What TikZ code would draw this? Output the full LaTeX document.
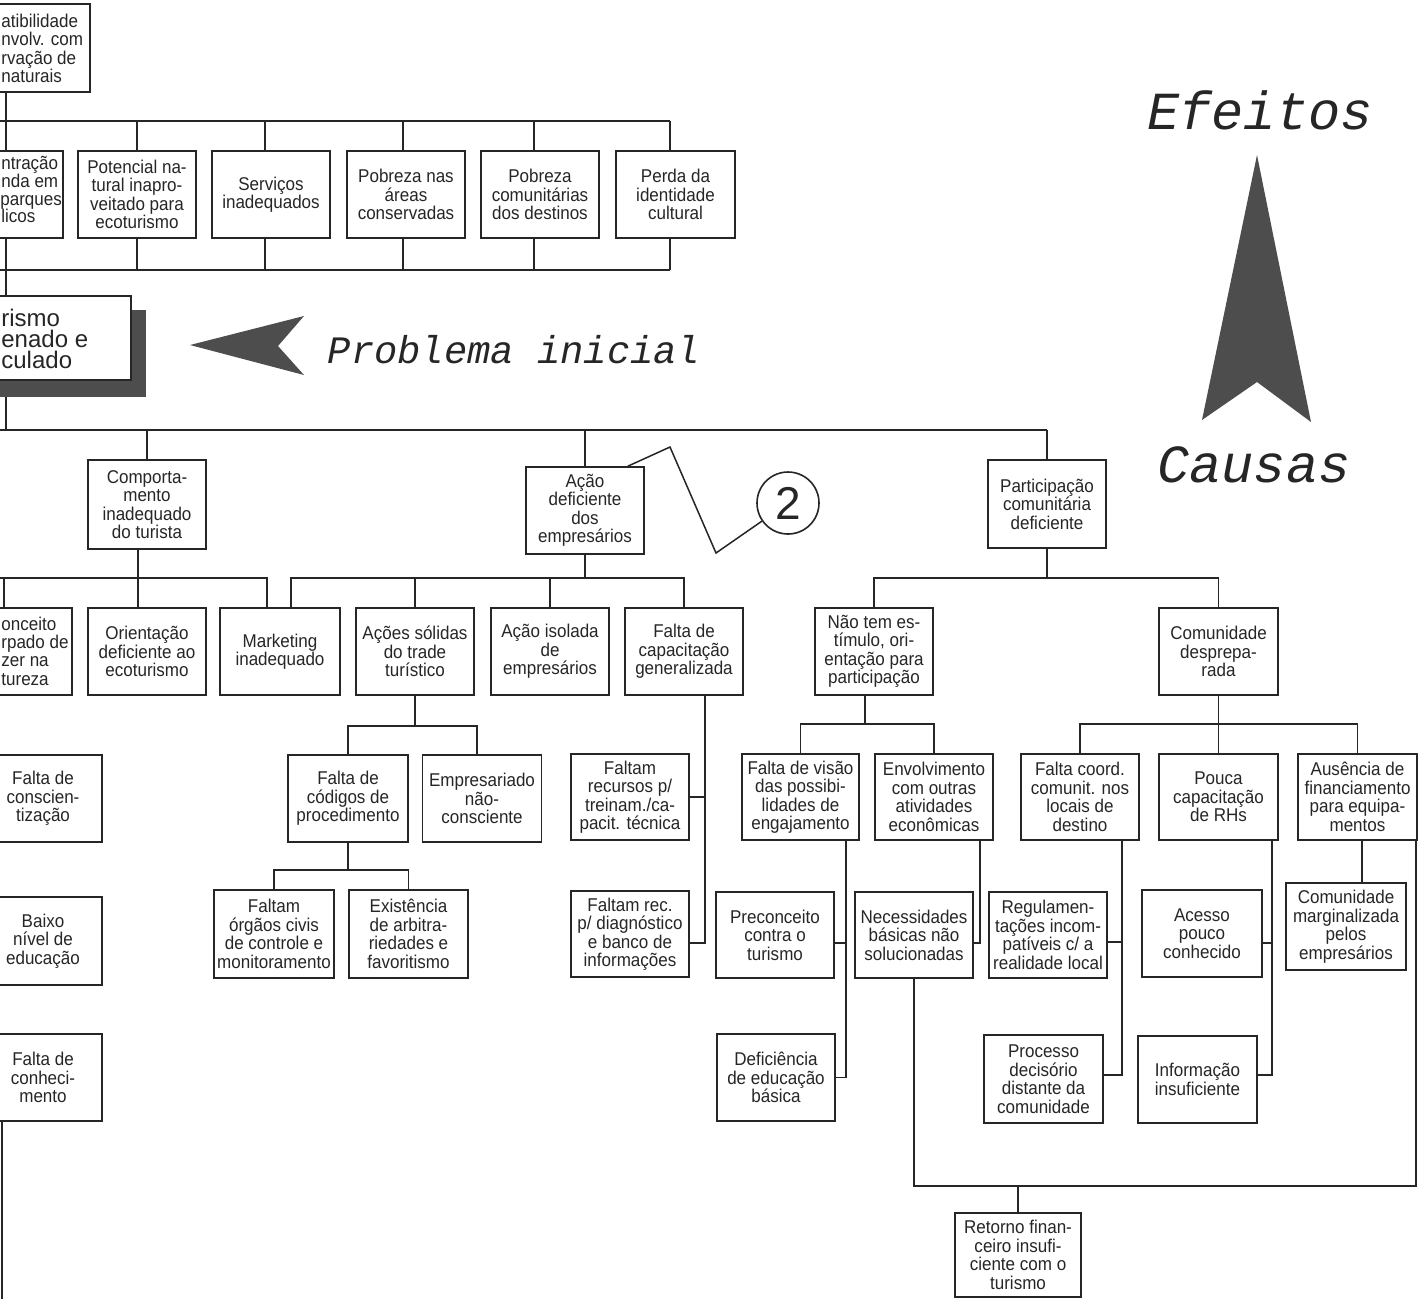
\documentclass[tikz,border=0pt]{standalone}
\usepackage{fontspec}
\setmainfont{Liberation Sans}[FakeStretch=0.92]
\newfontfamily\plainsans{Liberation Sans}
\newfontfamily\courfont{Liberation Mono}
\newcommand\boxfont{\fontsize{9.25}{9.25}\selectfont}
\newcommand\pbfont{\plainsans\fontsize{12}{10.5}\selectfont}
\newcommand\bigmono{\courfont\itshape\fontsize{26.8}{26.8}\selectfont}
\newcommand\midmono{\courfont\itshape\fontsize{19.4}{19.4}\selectfont}
\definecolor{ink}{HTML}{262626}
\definecolor{darkfill}{HTML}{4D4D4D}
\tikzset{
  box/.style={draw=ink, line width=0.8pt, fill=white, inner sep=0pt, align=center, font=\boxfont, text=ink},
  wh/.style 2 args={minimum width=#1*0.5pt, minimum height=#2*0.5pt},
  ln/.style={draw=ink, line width=0.75pt},
  frag/.style={inner sep=0pt, anchor=base west, font=\boxfont, text=ink},
  pfrag/.style={inner sep=0pt, anchor=west, align=left, font=\pbfont, text=ink},
}
\begin{document}
\begin{tikzpicture}[x=0.5pt,y=-0.5pt]
\useasboundingbox (0,0) rectangle (1425,1298);
\clip (0,0) rectangle (1425,1298);
\fill[white] (0,0) rectangle (1425,1298);

\coordinate (bus1) at (-10,121);
\coordinate (bus2) at (-10,270);
\coordinate (bus3) at (-10,430);
\coordinate (bus4) at (-10,578);
\coordinate (bus5) at (-10,726);
\coordinate (bus6) at (-10,870);
\coordinate (bus7) at (-10,724);
\coordinate (bus8) at (-10,1186);
\coordinate (shb) at (0,397);
\coordinate (lcend) at (2,1310);

% ---------- effects ----------
\node[box, wh={168}{88}] (b0) at (6,48) {};
\node[frag] (f0a) at (1,27) {atibilidade};
\node[frag] (f0b) at (1,45.7) {nvolv. com};
\node[frag] (f0c) at (1,64.3) {rvação de};
\node[frag] (f0d) at (1,82.7) {naturais};

\node[box, wh={114}{87}] (r2a) at (6,194.5) {};
\node[frag] (f1a) at (1,169.3) {ntração};
\node[frag] (f1b) at (1,187.3) {nda em};
\node[frag] (f1c) at (0,205) {parques};
\node[frag] (f1d) at (1,222.7) {licos};
\node[box, wh={118}{87}] (r2b) at (137,194.5) {Potencial na-\\tural inapro-\\veitado para\\ecoturismo};
\node[box, wh={118}{87}] (r2c) at (271,194.5) {Serviços\\inadequados};
\node[box, wh={118}{87}] (r2d) at (406,194.5) {Pobreza nas\\áreas\\conservadas};
\node[box, wh={118}{87}] (r2e) at (540,194.5) {Pobreza\\comunitárias\\dos destinos};
\node[box, wh={119}{87}] (r2f) at (675.5,194.5) {Perda da\\identidade\\cultural};

\coordinate (t3) at ([xshift=-3pt]r2c.north);
\coordinate (t4) at ([xshift=-1.5pt]r2d.north);
\coordinate (t5) at ([xshift=-3pt]r2e.north);
\coordinate (t6) at ([xshift=-2.75pt]r2f.north);
\coordinate (u3) at ([xshift=-3pt]r2c.south);
\coordinate (u4) at ([xshift=-1.5pt]r2d.south);
\coordinate (u5) at ([xshift=-3pt]r2e.south);
\coordinate (u6) at ([xshift=-2.75pt]r2f.south);

\draw[ln] (b0.south) -- (r2a.north);
\draw[ln] (bus1) -- (bus1 -| t6);
\draw[ln] (r2b.north) -- (r2b.north |- bus1);
\foreach \p in {t3,t4,t5,t6} \draw[ln] (\p) -- (\p |- bus1);
\draw[ln] (bus2) -- (bus2 -| u6);
\draw[ln] (r2b.south) -- (r2b.south |- bus2);
\foreach \p in {u3,u4,u5,u6} \draw[ln] (\p) -- (\p |- bus2);

% ---------- initial problem ----------
\fill[darkfill] (-150,310) rectangle (146,397);
\node[box, wh={250}{84}] (pb) at (6,338) {};
\node[pfrag] (pft) at (1,339) {rismo\\enado e\\culado};
\draw[ln] (r2a.south) -- (pb.north);
\draw[ln] (pb.south |- shb) -- (pb.south |- bus3);

\fill[darkfill] (190,345) -- (304,316) -- (278,346) -- (304,375) -- cycle;
\node[font=\midmono, text=ink, inner sep=0pt] (pi) at (514,350) {Problema inicial};

\fill[darkfill] (1257,155) -- (1311,422) -- (1257,382) -- (1202,420) -- cycle;
\node[font=\bigmono, text=ink, inner sep=0pt] (ef) at (1260,110) {Efeitos};
\node[font=\bigmono, text=ink, inner sep=0pt] (ca) at (1254,465) {Causas};

% ---------- level 3 ----------
\node[box, wh={118}{89}] (comp) at (147,504.5) {Comporta-\\mento\\inadequado\\do turista};
\node[box, wh={118}{87}] (acao) at (585,510.5) {Ação\\deficiente\\dos\\empresários};
\node[box, wh={118}{88}] (part) at (1047,504) {Participação\\comunitária\\deficiente};

\draw[ln] (bus3) -- (bus3 -| part.north);
\draw[ln] (comp.north) -- (comp.north |- bus3);
\draw[ln] (acao.north) -- (acao.north |- bus3);
\draw[ln] (part.north) -- (part.north |- bus3);

\node[draw=ink, line width=0.8pt, circle, minimum size=31pt, inner sep=0pt, text=ink, font=\plainsans\fontsize{23}{23}\selectfont] (c2) at (788,503) {2};
\coordinate (zz1) at (670,447);
\coordinate (zz2) at (716,553);
\draw[ln] ([xshift=-8.5pt]acao.north east) -- (zz1) -- (zz2) -- (c2);

% ---------- level 4 ----------
\node[box, wh={136}{87}] (conc) at (4,651.5) {};
\node[frag] (f2a) at (1,630) {onceito};
\node[frag] (f2b) at (1,648) {rpado de};
\node[frag] (f2c) at (1,666.7) {zer na};
\node[frag] (f2d) at (1,685) {tureza};
\node[box, wh={118}{87}] (orie) at (147,651.5) {Orientação\\deficiente ao\\ecoturismo};
\node[box, wh={120}{87}] (mkt) at (280,651.5) {Marketing\\inadequado};
\node[box, wh={118}{87}] (acs) at (415,651.5) {Ações sólidas\\do trade\\turístico};
\node[box, wh={118}{87}] (aci) at (550,651.5) {Ação isolada\\de\\empresários};
\node[box, wh={118}{87}] (fcap) at (684,651.5) {Falta de\\capacitação\\generalizada};
\node[box, wh={118}{87}] (nte) at (874,651.5) {Não tem es-\\tímulo, ori-\\entação para\\participação};
\node[box, wh={119}{87}] (cdp) at (1218.5,651.5) {Comunidade\\desprepa-\\rada};

\coordinate (cb) at ([xshift=-4.5pt]comp.south);
\coordinate (mkL) at ([xshift=-6.5pt]mkt.north);
\coordinate (mkR) at ([xshift=5.5pt]mkt.north);
\draw[ln] (cb) -- (cb |- orie.north);
\draw[ln] (bus4) -- (bus4 -| mkL) -- (mkL);
\draw[ln] (conc.north) -- (conc.north |- bus4);
\draw[ln] (mkR) |- (bus4 -| fcap.north) -- (fcap.north);
\draw[ln] (acao.south) -- (acao.south |- bus4);
\draw[ln] (acs.north) -- (acs.north |- bus4);
\draw[ln] (aci.north) -- (aci.north |- bus4);
\draw[ln] (nte.north) |- (bus4 -| cdp.north) -- (cdp.north);
\draw[ln] (part.south) -- (part.south |- bus4);

% ---------- left column ----------
\node[box, wh={118}{87}] (lc1) at (43,798.5) {Falta de\\conscien-\\tização};
\node[box, wh={118}{88}] (lc2) at (43,941) {Baixo\\nível de\\educação};
\node[box, wh={118}{87}] (lc3) at (43,1077.5) {Falta de\\conheci-\\mento};
\draw[ln] (lc3.south -| lcend) -- (lcend);

% ---------- under Ações sólidas ----------
\node[box, wh={120}{87}] (fcod) at (348,798.5) {Falta de\\códigos de\\procedimento};
\node[box, wh={119}{87}] (emp) at (482,798.5) {Empresariado\\não-\\consciente};
\coordinate (empT) at ([xshift=-2.5pt]emp.north);
\draw[ln] (acs.south) -- (acs.south |- bus5);
\draw[ln] (fcod.north) |- (bus5 -| empT) -- (empT);
\node[box, wh={120}{88}] (forg) at (274,934) {Faltam\\órgãos civis\\de controle e\\monitoramento};
\node[box, wh={119}{88}] (exis) at (408.5,934) {Existência\\de arbitra-\\riedades e\\favoritismo};
\draw[ln] (fcod.south) -- (fcod.south |- bus6);
\draw[ln] (forg.north) |- (bus6 -| exis.north) -- (exis.north);

% ---------- under Falta de capacitação ----------
\node[box, wh={118}{86}] (frec) at (630,797) {Faltam\\recursos p/\\treinam./ca-\\pacit. técnica};
\node[box, wh={118}{86}] (frd) at (630,934) {Faltam rec.\\p/ diagnóstico\\e banco de\\informações};
\coordinate (fcv) at ([xshift=10.5pt]fcap.south);
\draw[ln] (fcv) |- ([yshift=-4.5pt]frd.east);
\draw[ln] (frec.east) -- (frec.east -| fcv);

% ---------- under Não tem estímulo ----------
\node[box, wh={117}{86}] (fvis) at (800.5,797) {Falta de visão\\das possibi-\\lidades de\\engajamento};
\node[box, wh={118}{86}] (env) at (934,797) {Envolvimento\\com outras\\atividades\\econômicas};
\coordinate (ntv) at ([xshift=-4.5pt]nte.south);
\draw[ln] (ntv) -- (ntv |- bus7);
\draw[ln] (fvis.north) |- (bus7 -| env.north) -- (env.north);

\node[box, wh={118}{86}] (prec) at (775,935) {Preconceito\\contra o\\turismo};
\node[box, wh={118}{87}] (defe) at (776,1077.5) {Deficiência\\de educação\\básica};
\node[box, wh={118}{86}] (nec) at (914,935) {Necessidades\\básicas não\\solucionadas};
\coordinate (fvv) at ([xshift=22.75pt]fvis.south);
\coordinate (precS) at ([yshift=-4pt]prec.east);
\draw[ln] (fvv) |- (defe.east);
\draw[ln] (precS) -- (precS -| fvv);
\coordinate (envv) at ([xshift=23pt]env.south);
\draw[ln] (envv) |- ([yshift=-4pt]nec.east);

% ---------- under Comunidade despreparada ----------
\node[box, wh={118}{86}] (fco) at (1080,797) {Falta coord.\\comunit. nos\\locais de\\destino};
\node[box, wh={119}{86}] (pou) at (1218.5,797) {Pouca\\capacitação\\de RHs};
\node[box, wh={119}{86}] (aus) at (1357.5,797) {Ausência de\\financiamento\\para equipa-\\mentos};
\draw[ln] (cdp.south) -- (pou.north);
\draw[ln] (fco.north) |- (bus7 -| aus.north) -- (aus.north);

\node[box, wh={118}{86}] (reg) at (1048,935) {Regulamen-\\tações incom-\\patíveis c/ a\\realidade local};
\node[box, wh={119}{88}] (proc) at (1043.5,1079) {Processo\\decisório\\distante da\\comunidade};
\node[box, wh={120}{87}] (acess) at (1202,933.5) {Acesso\\pouco\\conhecido};
\node[box, wh={119}{87}] (info) at (1197.5,1079.5) {Informação\\insuficiente};
\node[box, wh={120}{87}] (cmar) at (1346,926.5) {Comunidade\\marginalizada\\pelos\\empresários};

\coordinate (fcov) at ([xshift=21pt]fco.south);
\coordinate (regS) at ([yshift=-3.5pt]reg.east);
\draw[ln] (fcov) |- ([yshift=2pt]proc.east);
\draw[ln] (regS) -- (regS -| fcov);
\coordinate (pouv) at ([xshift=26.75pt]pou.south);
\coordinate (acS) at ([yshift=-4.75pt]acess.east);
\draw[ln] (pouv) |- ([yshift=2.25pt]info.east);
\draw[ln] (acS) -- (acS -| pouv);
\coordinate (ausv) at ([xshift=2.25pt]aus.south);
\draw[ln] (ausv) -- (ausv |- cmar.north);

% ---------- bottom ----------
\node[box, wh={126}{84}] (ret) at (1018,1255) {Retorno finan-\\ceiro insufi-\\ciente com o\\turismo};
\coordinate (ausR) at ([xshift=-1pt]aus.south east);
\draw[ln] (nec.south) |- (bus8 -| ausR) -- (ausR);
\draw[ln] (ret.north) -- (ret.north |- bus8);
\end{tikzpicture}
\end{document}
